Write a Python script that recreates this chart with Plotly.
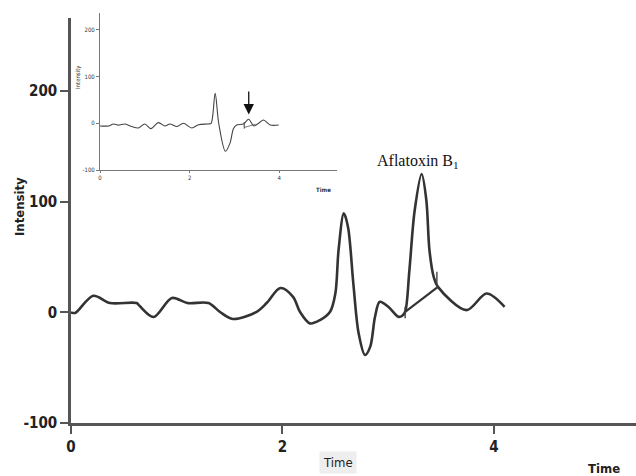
import plotly.graph_objects as go

# ---- main chromatogram ----
main_time = [0, 0.04, 0.21, 0.37, 0.62, 0.65, 0.78, 0.955, 1.1, 1.3, 1.41, 1.53, 1.756, 1.85,
             1.98, 2.1, 2.165, 2.26, 2.355, 2.45, 2.5, 2.53, 2.58, 2.62, 2.67, 2.72, 2.78, 2.83,
             2.875, 2.92, 3.0, 3.095, 3.13, 3.16, 3.2, 3.25, 3.316, 3.36, 3.39, 3.43, 3.47,
             3.74, 3.93, 4.1]
main_intensity = [0, -0.5, 15, 8.4, 8.4, 5.7, -4.2, 13, 8.4, 8.4, 0.3, -6, 0.5, 8.4,
                  22, 14, 0.5, -10, -7, 0.5, 17, 56, 89.5, 77, 26, -19, -38.6, -31,
                  -4, 9.6, 5, -4, -3.3, 0.5, 38, 92, 125, 101.5, 56, 32, 23,
                  2, 17, 5]

# integration baseline of the Aflatoxin B1 peak and its start/end markers
base_time = [3.16, 3.47]
base_intensity = [0.5, 23]
mark_time = [3.16, 3.16, None, 3.46, 3.46]
mark_intensity = [-5.4, 5, None, 21.7, 36.7]

main_ticks = [-100, 0, 100, 200]
main_xticks = [0, 2, 4]

# ---- inset chromatogram ----
inset_time = [0, 0.19, 0.3, 0.41, 0.56, 0.71, 0.86, 1.0, 1.14, 1.3, 1.45, 1.56, 1.72, 1.86,
              2.05, 2.2, 2.42, 2.48, 2.57, 2.65, 2.8, 2.9, 2.98, 3.05, 3.2, 3.32, 3.43,
              3.54, 3.65, 3.8, 3.99]
inset_intensity = [-5.7, -5.7, -1.5, -4, -1.5, -7, -10, -1.5, -11.5, 1.3, -5.7, -1.5, -7, 0,
                   -10, -3, -1.5, 0, 64, 0, -60, -43, -11, -3.6, -1.5, 8.5, -5.7,
                   0, 7, -3.6, -3.6]
inset_base_time = [3.22, 3.22, 3.22, 3.47]
inset_base_intensity = [-12, 2, -9, -2]
inset_ticks = [-100, 0, 100, 200]
inset_xticks = [0, 2, 4]
arrow_time = 3.32
arrow_top, arrow_tip = 71, 19

W, H = 636, 476
L, R, T, B = 71, 0, 13, 53
PW, PH = W - L - R, H - T - B


def px(xp):  # page x -> paper
    return (xp - L) / PW


def py(yp):  # page y -> paper
    return (H - B - yp) / PH


sans = "DejaVu Sans Condensed, Liberation Sans Narrow, Liberation Sans, sans-serif"

fig = go.Figure()
fig.add_trace(go.Scatter(x=main_time, y=main_intensity, mode="lines",
                         line=dict(color="#333333", width=2.6, shape="spline", smoothing=0.9),
                         hoverinfo="skip", showlegend=False))
fig.add_trace(go.Scatter(x=base_time, y=base_intensity, mode="lines",
                         line=dict(color="#333333", width=2.2), showlegend=False))
fig.add_trace(go.Scatter(x=mark_time, y=mark_intensity, mode="lines",
                         line=dict(color="#444444", width=1.4), showlegend=False))

fig.add_trace(go.Scatter(x=inset_time, y=inset_intensity, mode="lines", xaxis="x2", yaxis="y2",
                         line=dict(color="#444444", width=1.1, shape="spline", smoothing=0.9),
                         showlegend=False))
fig.add_trace(go.Scatter(x=inset_base_time, y=inset_base_intensity, mode="lines", xaxis="x2",
                         yaxis="y2", line=dict(color="#555555", width=0.8), showlegend=False))

axis_font = dict(family=sans, size=15, color="#222222", weight="bold")
fig.update_layout(
    width=W, height=H,
    margin=dict(l=L, r=R, t=T, b=B),
    paper_bgcolor="white", plot_bgcolor="white",
    xaxis=dict(range=[0, 5.343], domain=[0, 1], showgrid=False, zeroline=False,
               showline=True, linecolor="#555555", linewidth=2.5,
               ticks="outside", ticklen=8, tickwidth=2, tickcolor="#555555",
               tickvals=main_xticks, ticktext=[str(v) for v in main_xticks],
               tickfont=axis_font, anchor="y", automargin=False),
    yaxis=dict(range=[-100, 266], domain=[0, py(18)], showgrid=False, zeroline=False,
               showline=True, linecolor="#555555", linewidth=2.5,
               ticks="outside", ticklen=8, tickwidth=2, tickcolor="#555555",
               tickvals=main_ticks, ticktext=[str(v) for v in main_ticks],
               tickfont=axis_font, anchor="x", automargin=False),
    xaxis2=dict(range=[0, 5.29], domain=[px(100), px(337)], anchor="y2",
                showgrid=False, zeroline=False, showline=True, linecolor="#777777", linewidth=1,
                ticks="outside", ticklen=2, tickwidth=1, tickcolor="#777777",
                tickvals=inset_xticks, ticktext=[str(v) for v in inset_xticks],
                tickfont=dict(family=sans, size=6, color="#333333")),
    yaxis2=dict(range=[-100, 236], domain=[py(170), 1], anchor="x2",
                showgrid=False, zeroline=False, showline=True, linecolor="#777777", linewidth=1,
                ticks="outside", ticklen=3, tickwidth=1, tickcolor="#777777",
                tickvals=inset_ticks, ticktext=[str(v) for v in inset_ticks],
                tickfont=dict(family=sans, size=6, color="#333333")),
)

C = dict(xref="paper", yref="paper", xanchor="center", yanchor="middle", showarrow=False)
anns = [
    dict(text="<b>Intensity</b>", x=px(19), y=py(207), textangle=-90,
         font=dict(family=sans, size=13, color="#222222"), **C),
    dict(text="Time", x=px(338), y=py(462), bgcolor="#eeeeee", borderpad=3,
         font=dict(family=sans, size=13, color="#222222"), **C),
    dict(text="<b>Time</b>", x=px(604), y=py(468),
         font=dict(family=sans, size=13, color="#222222"), **C),
    dict(text="Aflatoxin B<sub>1</sub>", x=px(418), y=py(161),
         font=dict(family="Liberation Serif, Times New Roman, serif", size=16, color="#111111"),
         **C),
    dict(text="Intensity", x=px(78), y=py(77), textangle=-90,
         font=dict(family=sans, size=6, color="#333333"), **C),
    dict(text="<b>Time</b>", x=px(323), y=py(189),
         font=dict(family=sans, size=6, color="#333333"), **C),
    dict(x=arrow_time, y=arrow_tip, ax=arrow_time, ay=arrow_top, xref="x2", yref="y2",
         axref="x2", ayref="y2", showarrow=True, arrowhead=2, arrowsize=1.6, arrowwidth=1.3,
         arrowcolor="#111111", text=""),
]
fig.update_layout(annotations=anns)

fig.write_html("out.html", config={"displayModeBar": False},
               post_script="document.body.style.margin='0';document.body.style.overflow='hidden';")
